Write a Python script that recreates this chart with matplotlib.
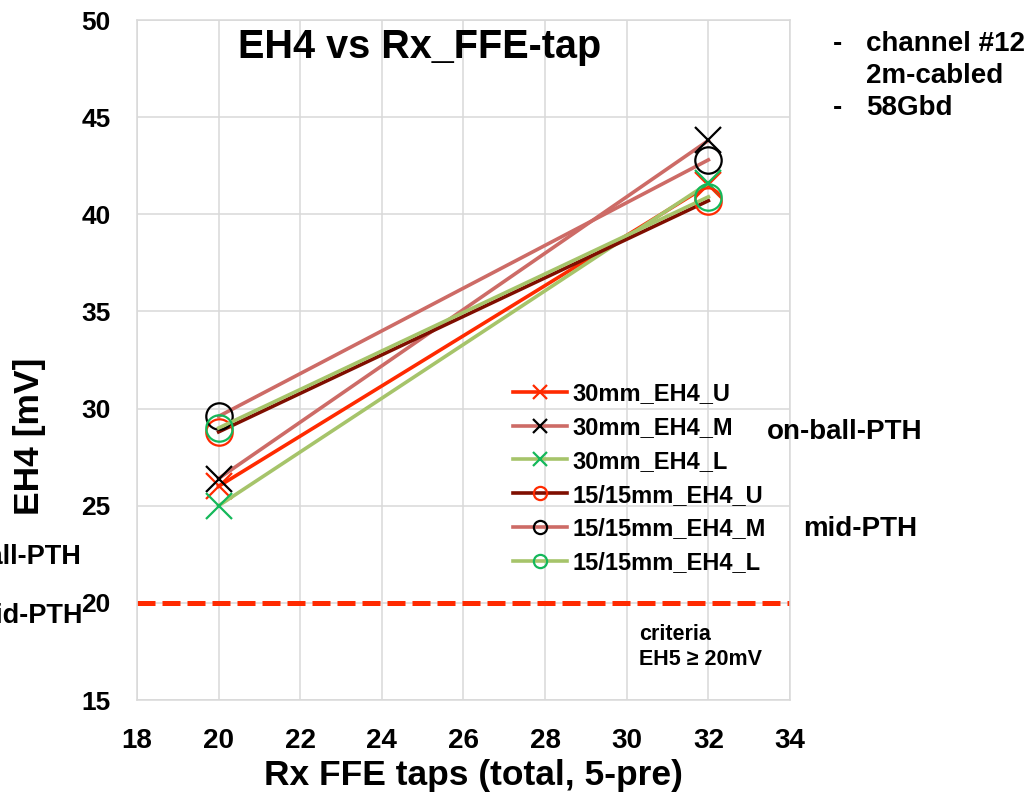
import matplotlib
matplotlib.use("Agg")
import matplotlib.pyplot as plt

plt.rcParams['font.family'] = ['Liberation Sans', 'DejaVu Sans']
plt.rcParams['font.weight'] = 'bold'

# Rx FFE taps (total, 5-pre)
taps = [20, 32]

# EH4 [mV] per package / layer
eh4_30_u = [26.0, 41.5]
eh4_30_m = [26.4, 43.8]
eh4_30_l = [25.0, 41.6]
eh4_15_u = [28.8, 40.7]
eh4_15_m = [29.6, 42.8]
eh4_15_l = [29.0, 40.9]

labels = ['30mm_EH4_U', '30mm_EH4_M', '30mm_EH4_L',
          '15/15mm_EH4_U', '15/15mm_EH4_M', '15/15mm_EH4_L']
criteria = 20

red = '#FF2A00'
pink = '#CD6B66'
olive = '#A6C46A'
darkred = '#7F0E00'
green = '#14B85A'

fig = plt.figure(figsize=(10.28, 7.96), dpi=100)
ax = fig.add_axes([137/1028, 96/796, 653/1028, 680/796])

series = [
    (eh4_30_u, red, 'x', red),
    (eh4_30_m, pink, 'x', 'black'),
    (eh4_30_l, olive, 'x', green),
    (eh4_15_u, darkred, 'o', red),
    (eh4_15_m, pink, 'o', 'black'),
    (eh4_15_l, olive, 'o', green),
]
for (vals, lc, mk, mc), lab in zip(series, labels):
    ax.plot(taps, vals, color=lc, lw=2.6, marker=mk, ms=19,
            mec=mc, mfc='none', mew=1.6, label=lab)

ax.axhline(criteria, color=red, lw=3.6, ls=(0, (3.6, 1.4)), zorder=1)

ax.set_xlim(18, 34)
ax.set_ylim(15, 50)
ax.set_xticks(range(18, 35, 2))
ax.set_yticks(range(15, 51, 5))
ax.grid(True, color='#D9D9D9', lw=1.1)
ax.set_axisbelow(True)
for s in ax.spines.values():
    s.set_color('#D9D9D9')
    s.set_linewidth(1.1)
ax.tick_params(length=0)
ax.tick_params(axis='y', labelsize=19, pad=19)
ax.tick_params(axis='x', labelsize=20, pad=20)
for t in ax.get_xticklabels():
    t.set_family(['Liberation Sans Narrow', 'Liberation Sans'])
    t.set_fontweight('bold')
for t in ax.get_yticklabels():
    t.set_fontweight('bold')

fig.text(473/1028, 1 - 775/796, 'Rx FFE taps (total, 5-pre)', fontsize=25.5,
         fontweight='bold', ha='center', va='center')
fig.text(29/1028, 1 - 436/796, 'EH4 [mV]', rotation=90, fontsize=25.5,
         fontweight='bold', ha='center', va='center')

ax.text(0.433, 0.96, 'EH4 vs Rx_FFE-tap', transform=ax.transAxes,
        fontsize=28.5, fontweight='bold', ha='center', va='center')

leg = ax.legend(loc='upper left', bbox_to_anchor=(513/1028, 1 - 382/796),
                bbox_transform=fig.transFigure, frameon=False, fontsize=17,
                markerscale=0.5, handlelength=2.3, handletextpad=0.2,
                labelspacing=0.46, borderpad=0, borderaxespad=0)

# group notes next to the legend
fig.text(767/1028, 1 - 432/796, 'on-ball-PTH', fontsize=20, fontweight='bold',
         ha='left', va='center')
fig.text(803/1028, 1 - 529/796, 'mid-PTH', fontsize=20, fontweight='bold',
         ha='left', va='center')
fig.text(81/1028, 1 - 557/796, 'on-ball-PTH', fontsize=19.5, fontweight='bold',
         ha='right', va='center')
fig.text(83/1028, 1 - 616/796, 'mid-PTH', fontsize=19.5, fontweight='bold',
         ha='right', va='center')

fig.text(639/1028, 1 - 647/796, 'criteria\nEH5 \u2265 20mV', fontsize=15.5,
         fontweight='bold', ha='left', va='center', linespacing=1.2)

# test conditions
for y, dash, txt in [(44, '-', 'channel #12'), (76, '', '2m-cabled'),
                     (108, '-', '58Gbd')]:
    if dash:
        fig.text(833/1028, 1 - y/796, dash, fontsize=20, fontweight='bold',
                 ha='left', va='center')
    fig.text(866/1028, 1 - y/796, txt, fontsize=20, fontweight='bold',
             ha='left', va='center')

fig.savefig('out.png', dpi=100)
